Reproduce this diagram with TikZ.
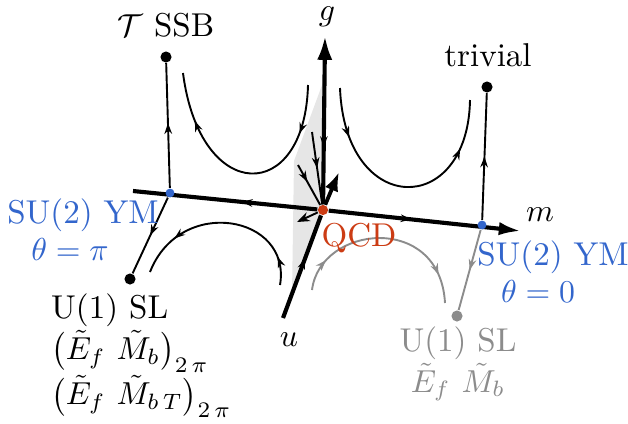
\documentclass[tikz,border=0pt]{standalone}
\usepackage{amsmath}
\usetikzlibrary{arrows.meta, positioning, decorations.markings}
\definecolor{ymblue}{RGB}{51,102,204}
\definecolor{qcdred}{RGB}{204,60,20}
\definecolor{flowgray}{RGB}{140,140,140}
\definecolor{sheetgray}{RGB}{230,230,230}
\pgfdeclarelayer{background}
\pgfsetlayers{background,main}
\tikzset{
    flow style/.style={line width=0.6pt},
    axis style/.style={line width=1.3pt},
    mid arrow/.style={postaction={decorate, decoration={markings, mark=at position #1 with {\arrow{Stealth[length=3.4pt,width=2.4pt]}}}}},
    dot style/.style={circle, fill=black, inner sep=0pt, minimum size=3.5pt},
    fp style/.style={circle, fill=ymblue, inner sep=0pt, minimum size=2.8pt},
}

\begin{document}
\begin{tikzpicture}[x=0.315pt, y=-0.315pt, font=\fontsize{10.4}{12.8}\selectfont]
    \useasboundingbox (0,0) rectangle (628,423);

    % fixed points
    \node (qcd) [circle, fill=qcdred, inner sep=0pt, minimum size=3.2pt] at (323,210) {};
    \node (ymleft) [fp style] at (170,193) {};
    \node (ymright) [fp style] at (482,225) {};
    \node (ssbdot) [dot style] at (166,57) {};
    \node (trivdot) [dot style] at (487,87) {};
    \node (sldot) [dot style] at (130,279) {};
    \node (slgraydot) [dot style, fill=flowgray] at (457,316) {};

    % axes and critical sheet
    \coordinate (gtop) at (325,36);
    \coordinate (mtip) at (521,231);
    \coordinate (mleft) at (133,191);
    \coordinate (ubot) at (283,318);
    \begin{pgfonlayer}{background}
        \fill[sheetgray] (323,210) -- (325,77) -- (294,161) -- (292,294) -- cycle;
        \draw [axis style, {Latex[length=7.5pt,width=4.8pt]}-, mid arrow=0.66] (gtop) -- (qcd);
        \draw [axis style, mid arrow=0.43, -{Latex[length=7pt,width=4.2pt]}] (qcd) -- (mtip);
        \draw [axis style, mid arrow=0.41] (qcd) -- (mleft);
        \draw [axis style, mid arrow=0.58] (ubot) -- (qcd);
    \end{pgfonlayer}

    % flows into and out of QCD
    \coordinate (ina) at (312,132);
    \coordinate (inb) at (298,165);
    \coordinate (outrel) at (339,172);
    \coordinate (outirr) at (297,222);
    \draw [flow style, mid arrow=0.5] (ina) -- (qcd);
    \draw [flow style, mid arrow=0.42] (inb) -- (qcd);
    \draw [line width=1.2pt, -{Latex[length=6pt,width=4.4pt]}] (qcd) -- (outrel);
    \draw [flow style, -{Stealth[length=4pt,width=3pt]}] (qcd) -- (outirr);

    % flows between fixed points
    \draw [flow style, mid arrow=0.52] (ymleft) -- (ssbdot);
    \draw [flow style, mid arrow=0.5] (ymright) -- (trivdot);
    \draw [flow style, mid arrow=0.5] (ymleft) -- (sldot);
    \draw [flow style, flowgray, mid arrow=0.5] (ymright) -- (slgraydot);

    % hyperbolas
    \coordinate (tla) at (308,85);
    \coordinate (tlb) at (183,73);
    \coordinate (tra) at (340,88);
    \coordinate (trb) at (470,100);
    \coordinate (bla) at (280,285);
    \coordinate (blb) at (150,272);
    \coordinate (bra) at (312,290);
    \coordinate (brb) at (445,303);
    \draw [flow style, mid arrow=0.2, mid arrow=0.8] (tla) .. controls (305,205) and (200,205) .. (tlb);
    \draw [flow style, mid arrow=0.2, mid arrow=0.8] (tra) .. controls (345,218) and (468,218) .. (trb);
    \draw [flow style, mid arrow=0.15, mid arrow=0.78] (bla) .. controls (292,215) and (180,195) .. (blb);
    \draw [flow style, flowgray, mid arrow=0.17, mid arrow=0.85] (bra) .. controls (320,225) and (440,212) .. (brb);

    % labels
    \node (ssblabel) at (166,25) {$\mathcal{T}$ SSB};
    \node (glabel) at (327,17) {$g$};
    \node (trivlabel) at (488,55) {trivial};
    \node (mlabel) at (540,215) {$m$};
    \node (ulabel) at (289,340) {$u$};
    \node (qcdlabel) [text=qcdred] at (359,238) {QCD};
    \node (ymleftlabel) [text=ymblue] at (83,215) {SU(2) YM};
    \node (thetapi) [text=ymblue] at (70,249) {$\theta=\pi$};
    \node (ymrightlabel) [text=ymblue] at (553,257) {SU(2) YM};
    \node (thetazero) [text=ymblue] at (538,291) {$\theta=0$};
    \node (sllabel) [align=left, anchor=north west] at (40,283)
        {U(1) SL\\ $\bigl(\tilde E_f\ \tilde M_b\bigr)_{2\,\pi}$\\ $\bigl(\tilde E_f\ \tilde M_{b\,T}\bigr)_{2\,\pi}$};
    \node (slgraylabel) [text=flowgray, align=center] at (458,364) {U(1) SL\\ $\tilde E_f\ \tilde M_b$};
\end{tikzpicture}
\end{document}
